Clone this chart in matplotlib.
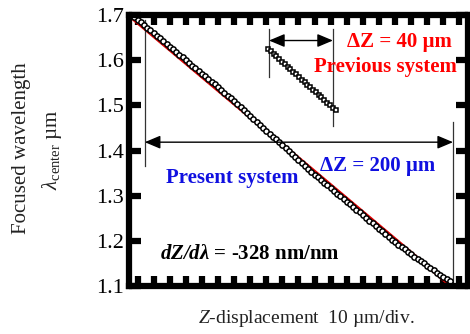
import matplotlib
matplotlib.use('Agg')
import matplotlib.pyplot as plt

plt.rcParams['font.family'] = ['Liberation Serif', 'DejaVu Serif']
plt.rcParams['mathtext.fontset'] = 'custom'
plt.rcParams['mathtext.rm'] = 'Liberation Serif'
plt.rcParams['mathtext.it'] = 'Liberation Serif:italic'
plt.rcParams['mathtext.bf'] = 'Liberation Serif:bold'
plt.rcParams['mathtext.bfit'] = 'Liberation Serif:italic:bold'

# present system, Z in um, focused wavelength in um
z_present = [-2, 0, 2, 4, 6, 8, 10, 12, 14, 16, 18, 20, 22, 24, 26, 28, 30, 32, 34, 36,
             38, 40, 42, 44, 46, 48, 50, 52, 54, 56, 58, 60, 62, 64, 66, 68, 70, 72, 74, 76,
             78, 80, 82, 84, 86, 88, 90, 92, 94, 96, 98, 100, 102, 104, 106, 108, 110, 112,
             114, 116, 118, 120, 122, 124, 126, 128, 130, 132, 134, 136, 138, 140, 142, 144,
             146, 148, 150, 152, 154, 156, 158, 160, 162, 164, 166, 168, 170, 172, 174, 176,
             178, 180, 182, 184, 186, 188, 190, 192, 194]
lam_present = [1.6960, 1.6905, 1.6850, 1.6790, 1.6730, 1.6670, 1.6609, 1.6549, 1.6489,
               1.6429, 1.6369, 1.6309, 1.6249, 1.6189, 1.6129, 1.6069, 1.6008, 1.5948,
               1.5888, 1.5828, 1.5768, 1.5708, 1.5648, 1.5588, 1.5528, 1.5468, 1.5407,
               1.5347, 1.5285, 1.5222, 1.5160, 1.5097, 1.5030, 1.4965, 1.4899, 1.4834,
               1.4768, 1.4703, 1.4637, 1.4572, 1.4506, 1.4441, 1.4375, 1.4310, 1.4245,
               1.4180, 1.4115, 1.4048, 1.3981, 1.3914, 1.3847, 1.3780, 1.3713, 1.3648,
               1.3585, 1.3525, 1.3464, 1.3404, 1.3344, 1.3284, 1.3224, 1.3164, 1.3104,
               1.3044, 1.2984, 1.2924, 1.2863, 1.2803, 1.2743, 1.2683, 1.2623, 1.2563,
               1.2503, 1.2443, 1.2383, 1.2323, 1.2262, 1.2202, 1.2142, 1.2082, 1.2022,
               1.1962, 1.1908, 1.1855, 1.1802, 1.1750, 1.1697, 1.1644, 1.1591, 1.1540,
               1.1489, 1.1438, 1.1388, 1.1338, 1.1288, 1.1238, 1.1188, 1.1138, 1.1090]

# linear fit (dZ/dlambda = -328 nm/nm)
z_fit = [-3, 193]
lam_fit = [1.693, 1.104]

# previous system
z_prev = [81.0, 82.75, 84.5, 86.25, 88.0, 89.75, 91.5, 93.25, 95.0, 96.75, 98.5, 100.25,
          102.0, 103.75, 105.5, 107.25, 109.0, 110.75, 112.5, 114.25, 116.0, 117.75,
          119.5, 121.25, 123.0]
lam_prev = [1.6260, 1.6205, 1.6145, 1.6090, 1.6030, 1.5975, 1.5920, 1.5860, 1.5805,
            1.5745, 1.5690, 1.5635, 1.5575, 1.5520, 1.5465, 1.5405, 1.5350, 1.5290,
            1.5235, 1.5180, 1.5120, 1.5065, 1.5010, 1.4955, 1.4900]

fig = plt.figure(figsize=(4.7, 3.34), dpi=100)
ax = fig.add_axes([0.2755, 0.1452, 0.7192, 0.8084])

ax.plot(z_fit, lam_fit, color='#e00000', lw=2.4, zorder=2)
ax.plot(z_present, lam_present, 'o', mfc='white', mec='black', ms=3.8, mew=1.1, zorder=3)
ax.plot(z_prev, lam_prev, 's', mfc='white', mec='black', ms=3.2, mew=1.1, zorder=3)

lc = '#333333'
# range markers, present system
ax.plot([4.5, 4.5], [1.690, 1.366], color=lc, lw=0.9)
ax.plot([196, 196], [1.463, 1.10], color=lc, lw=0.9)
ax.annotate('', xy=(4.5, 1.4185), xytext=(196, 1.4185),
            arrowprops=dict(arrowstyle='<|-|>,head_length=0.95,head_width=0.4',
                            mutation_scale=10, color='black', lw=1.0,
                            shrinkA=0, shrinkB=0))
# range markers, previous system
ax.plot([81.7, 81.7], [1.670, 1.564], color=lc, lw=0.9)
ax.plot([121.4, 121.4], [1.670, 1.454], color=lc, lw=0.9)
ax.annotate('', xy=(81.7, 1.6444), xytext=(121.4, 1.6444),
            arrowprops=dict(arrowstyle='<|-|>,head_length=0.95,head_width=0.4',
                            mutation_scale=10, color='black', lw=1.0,
                            shrinkA=0, shrinkB=0))

red = '#ff0000'
blue = '#1010e0'
fs = 15
ax.text(163, 1.640, 'ΔZ = 40 µm', color=red, fontsize=fs, fontweight='bold',
        ha='center', va='center')
ax.text(154, 1.585, 'Previous system', color=red, fontsize=fs, fontweight='bold',
        ha='center', va='center')
ax.text(149, 1.365, 'ΔZ = 200 µm', color=blue, fontsize=fs, fontweight='bold',
        ha='center', va='center')
ax.text(59, 1.338, 'Present system', color=blue, fontsize=fs, fontweight='bold',
        ha='center', va='center')
ax.text(70, 1.170, r'$\mathbfit{dZ/d\lambda}$ = -328 nm/nm', color='black', fontsize=fs,
        fontweight='bold', ha='center', va='center')

ax.set_xlim(-5, 205)
ax.set_ylim(1.1, 1.7)
ax.set_xticks(range(0, 201, 10))
ax.set_yticks([1.1, 1.2, 1.3, 1.4, 1.5, 1.6, 1.7])
ax.set_xticklabels([])
ax.tick_params(axis='x', which='major', direction='in', top=True, bottom=True,
               length=7, width=4.5, color='black')
ax.tick_params(axis='y', which='major', direction='in', left=True, right=True,
               length=8.5, width=4.5, color='black', labelsize=16, pad=4)
for s in ax.spines.values():
    s.set_linewidth(4.5)
    s.set_zorder(5)

fig.text(0.045, 0.557, 'Focused wavelength', rotation=90, fontsize=15,
         ha='center', va='center', color='#222222')
fig.text(0.111, 0.552, r'$\lambda_{\mathrm{center}}$ µm', rotation=90, fontsize=15,
         ha='center', va='center', color='#222222')
fig.text(0.652, 0.045, r'$Z$-displacement  10 µm/div.', fontsize=14,
         ha='center', va='center', color='#222222')

fig.savefig('out.png', dpi=100)
